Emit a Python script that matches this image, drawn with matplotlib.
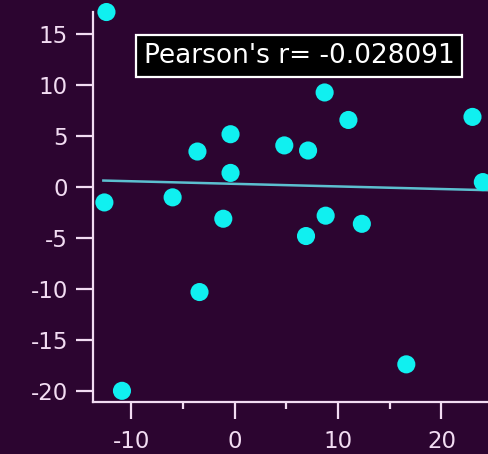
import matplotlib
matplotlib.use("Agg")
import matplotlib.pyplot as plt
from matplotlib.ticker import MultipleLocator

plt.rcParams["axes.unicode_minus"] = False

x_vals = [-12.4, -12.6, -10.9, -6.0, -3.6, -3.4, -1.1, -0.4, -0.4, 4.8,
          7.1, 6.9, 8.7, 8.8, 11.0, 12.3, 16.6, 23.0, 24.0]
y_vals = [17.2, -1.5, -20.0, -1.0, 3.5, -10.3, -3.1, 5.2, 1.4, 4.1,
          3.6, -4.8, 9.3, -2.8, 6.6, -3.6, -17.4, 6.9, 0.5]
fit_x = [-12.7, 24.6]
fit_y = [0.65, -0.30]
pearson_label = "Pearson's r= -0.028091"
x_ticks = [-10, 0, 10, 20]
y_ticks = [-20, -15, -10, -5, 0, 5, 10, 15]

bg = "#2c0530"
fg = "#f2dcf2"

fig = plt.figure(figsize=(4.88, 4.54), dpi=100, facecolor=bg)
ax = fig.add_axes([0.1906, 0.1145, 0.8094, 0.859], facecolor=bg)

ax.plot(fit_x, fit_y, color="#5cc0d0", lw=1.8, zorder=2)
ax.scatter(x_vals, y_vals, s=170, color="#10f0f0", edgecolors="none", zorder=3, clip_on=False)

ax.set_xlim(-13.7, 24.5)
ax.set_ylim(-21.1, 17.2)
ax.set_xticks(x_ticks)
ax.set_yticks(y_ticks)
ax.xaxis.set_minor_locator(MultipleLocator(5))

for s in ["top", "right"]:
    ax.spines[s].set_visible(False)
for s in ["left", "bottom"]:
    ax.spines[s].set_color(fg)
    ax.spines[s].set_linewidth(1.6)

ax.tick_params(axis="y", which="major", direction="out", length=12, width=1.6,
               color=fg, labelcolor=fg, labelsize=16.5, pad=6)
ax.tick_params(axis="x", which="major", direction="out", length=12, width=1.6,
               color=fg, labelcolor=fg, labelsize=16.5, pad=8)
ax.tick_params(axis="x", which="minor", direction="out", length=5, width=1.6, color=fg)
ax.tick_params(axis="y", which="minor", length=0)

ax.text(0.128, 0.887, pearson_label, transform=ax.transAxes,
        fontsize=19, color="white", va="center", ha="left",
        bbox=dict(boxstyle="square,pad=0.3", facecolor="black", edgecolor="white", lw=1.6))

fig.savefig("out.png", dpi=100, facecolor=bg)
